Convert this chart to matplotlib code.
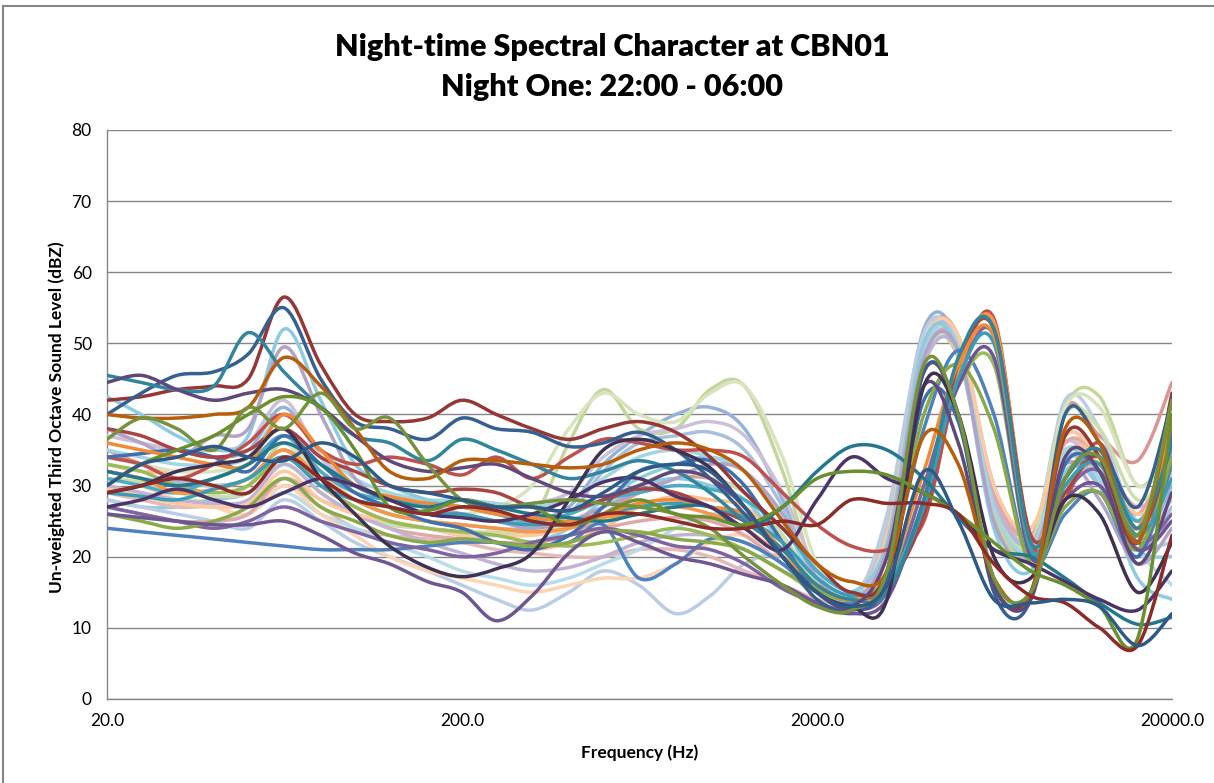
import numpy as np
import matplotlib.pyplot as plt
from matplotlib.path import Path
from matplotlib.patches import PathPatch
from matplotlib.lines import Line2D
from matplotlib.ticker import NullLocator

plt.rcParams['font.family'] = ['Lato', 'DejaVu Sans']

# third octave band centres (Hz)
freqs = [20, 25, 31.5, 40, 50, 63, 80, 100, 125, 160, 200, 250, 315, 400, 500, 630,
         800, 1000, 1250, 1600, 2000, 2500, 3150, 4000, 5000, 6300, 8000, 10000,
         12500, 16000, 20000]

# pastel runs (drawn first)
p01 = [38, 36, 35, 34, 35, 41, 34, 30, 28, 27, 26, 25, 25, 27, 33, 37, 40, 41, 38, 28, 16, 13, 24, 52, 50, 26, 21, 34, 31, 22, 30]
p02 = [35, 33, 31, 30, 31, 35, 30, 27, 25, 24, 23, 22, 22, 23, 26, 29, 31, 31, 29, 23, 16, 13, 23, 50, 51, 27, 22, 41, 37, 33.5, 44.5]
p03 = [30, 29, 28, 28, 30, 36, 31, 28, 26, 25, 24, 23, 25, 36, 43.5, 38, 38, 43.5, 44, 32, 17, 14, 25, 49, 48, 26, 21, 41, 42.5, 30, 36]
p04 = [28, 27, 27, 28, 29, 33, 29, 26, 24.5, 24, 23, 22, 22, 24, 28, 31, 33, 34, 32, 25, 16, 13, 22, 48, 50, 28, 21, 35, 30, 21, 20]
p05 = [33, 32, 32, 33, 34, 38, 32, 28, 26, 25, 24, 22, 21, 22, 24, 27, 28.5, 28, 27, 22, 15, 12.5, 23, 50, 51, 29, 24, 36, 33, 25, 32]
p06 = [28, 27, 26, 25, 24, 28, 25, 22, 20, 18, 16, 14, 12.5, 15, 18, 16, 12, 14.5, 19, 20, 15, 13, 26, 51.5, 50, 30, 22, 42, 38, 25, 31]
p07 = [29, 28, 27, 27, 26, 30, 27, 24, 23, 22.5, 22, 21, 20.5, 20, 20, 21, 21, 20, 18, 16, 14, 13, 24, 49, 51, 30, 23, 37, 34, 27, 32]
p08 = [34, 33, 32, 32, 33, 36, 31, 28, 27, 26, 26, 27, 30, 38, 43, 40, 39, 43, 44, 34, 19, 14, 24, 48, 49, 27, 22, 41, 41, 30, 34]
p09 = [37, 36, 35, 35, 36, 42, 34, 30, 28, 27, 27, 27, 27.5, 29, 34, 37, 38, 39, 37, 29, 18, 14, 24, 50, 50, 28, 22, 36, 31, 23, 28]
p10 = [26, 25.5, 25, 25, 26, 29, 26, 24, 22, 20, 18, 17, 16, 17, 19, 21, 24, 26, 25, 21, 15, 13, 22, 47, 50, 27, 22, 34, 31, 21, 16]
p11 = [31, 30, 28, 27, 26, 30, 26, 23, 20, 18, 17, 16, 15, 16, 17, 17, 19, 22, 23, 20, 14, 12.5, 22, 49, 51, 29, 23, 35, 32, 23, 35]
p12 = [32, 31, 30.5, 30, 31, 35, 31, 28, 26, 25, 24.5, 24, 24, 26, 32, 36, 37, 37.5, 35, 27, 17, 14, 23, 50, 50, 27, 22, 34, 30, 21, 27]
p13 = [27, 26, 25, 25, 26, 31, 28, 26, 24, 23, 22.5, 22, 22, 23, 24, 25, 25.5, 25, 23, 19, 15, 13, 22, 48, 50, 29, 23, 36, 34, 26, 37]
p14 = [31, 30.5, 29, 28.5, 29, 33, 29, 26, 24.5, 24, 23.5, 23.5, 23.5, 24.5, 27, 30, 32, 31, 29, 23, 16, 13.5, 22, 47, 49, 27, 22, 40, 38, 28, 33]
p15 = [30, 29, 28, 27.5, 28, 33, 29, 26, 24, 22, 20.5, 19, 18, 18.5, 20, 22, 23, 23, 22, 19, 15, 13, 22, 47, 49, 28, 22, 33, 30, 22, 25]
p16 = [35, 34, 33, 33, 34, 40, 35, 31, 29, 28, 28, 27.5, 27, 28, 31, 34, 35, 34, 32, 25, 17, 14, 23, 49, 50, 27, 21, 35, 31, 22, 22]
p17 = [29.5, 28.5, 27.5, 27, 27.5, 32, 28, 26, 25, 24, 23, 23, 23, 24, 25.5, 27.5, 28, 27, 25, 21, 15, 13, 23, 50, 51, 30, 24, 37, 34, 26, 31]
p18 = [42.5, 40, 37, 35, 37, 52, 42, 33, 30, 28, 27, 26, 25, 26, 28, 30, 31, 30, 28, 22, 17, 15, 22, 50, 49, 24, 18, 32, 30, 17, 14]
p19 = [38, 36, 34, 37, 38, 49.5, 40, 31, 28, 27, 26, 25, 24, 25, 27, 29, 31, 33, 32, 26, 17, 14, 21, 48, 49, 25, 20, 33, 28, 19, 24]

# mid-tone runs
m01 = [24, 23.5, 23, 22.5, 22, 21.5, 21, 21, 21, 21.5, 22, 22, 21.5, 22, 24.5, 17, 19, 22.5, 22, 19, 15, 13.5, 18, 38, 49, 40, 19, 26, 29, 20, 33]
m02 = [34, 33, 31, 33, 36, 40, 35, 33, 34, 33, 31.5, 34, 31, 34, 36.5, 36, 35, 35, 34, 29, 24.5, 21.5, 21, 25, 45, 53.5, 22, 28, 36, 24, 38]
m03 = [33, 32, 30, 29, 30, 34, 30, 27, 25, 24, 23.5, 23, 22, 21.5, 22, 23, 24, 23, 21, 18, 15, 14, 16, 30, 44, 47, 20, 30, 33, 24, 36]
m04 = [27, 26, 25, 24, 25, 27, 25, 23.5, 22, 21, 20, 20.5, 22, 23, 24, 23, 21.5, 21, 19, 15.5, 13.5, 12.5, 15, 30, 45, 51, 21, 29, 32, 22, 26]
m05 = [31, 30, 29, 31, 33, 37, 32, 29, 28, 27.5, 27, 26, 25, 26, 28, 29, 30, 29.5, 28, 24, 18, 15, 16, 28, 47, 52.5, 21, 31, 34, 25, 35]
m06 = [32, 31, 29, 29.5, 31, 35, 31, 28, 26, 25, 24.5, 24, 23.5, 24, 25.5, 26, 27, 26, 24, 20, 16, 14, 16, 27, 46, 53, 23, 30, 33, 24, 40]
m07 = [34, 34.5, 35, 34, 32, 37, 33, 29, 27, 25, 24, 22, 21, 23, 27, 32, 33, 33.5, 30, 22, 15, 13, 17, 42, 39, 16, 15, 33, 32, 20, 37]
m08 = [38, 37, 35, 34, 35, 38, 34, 32, 30, 29, 29.5, 29, 27, 26.5, 28, 29.5, 29, 27, 25, 21, 16, 14, 16, 26, 47, 52, 23, 29, 34, 23, 36]
m09 = [26, 25, 24, 25, 27, 31, 27, 25, 23, 22, 22.5, 22, 21.5, 22, 23.5, 23.5, 22.5, 22, 21, 18, 15.5, 14, 18, 40, 47, 38, 19, 27, 29, 21, 34]
m10 = [26, 25.5, 25, 24.5, 24.5, 25, 23, 20.5, 19, 16.5, 15, 11, 14.5, 20.5, 23.5, 22, 20, 19, 17.5, 16, 13.5, 12, 14, 28, 44, 48, 20, 28, 30, 21, 25]
m11 = [29, 28.5, 28, 29.5, 31, 34, 30, 28, 27, 26, 26, 25, 24.5, 25, 26, 27, 27.5, 27, 25.5, 22, 17, 14.5, 16, 27, 45, 50, 21, 30, 33, 23, 31]
m12 = [36, 35, 34, 33, 33, 40, 35, 30, 28.5, 27.5, 27, 26, 25.5, 25, 26, 27.5, 28, 27, 26, 21, 16, 14, 17, 32, 47, 51, 22, 31, 35, 24, 39]

# dark runs (drawn last, on top)
d01 = [42, 42.5, 43.5, 44, 45, 56.5, 47, 40, 39, 39.5, 42, 40, 38, 36.5, 38, 39, 37.5, 34, 29, 24, 19, 15, 18, 46, 40, 16, 15, 37, 34, 22, 43]
d02 = [40, 43, 45.5, 46, 48.5, 55, 45, 39, 38, 36.5, 39.5, 38, 37.5, 35.5, 36, 37.5, 35, 31, 26, 20, 14, 12.5, 17, 46, 40, 15, 14, 40, 36, 27, 42]
d03 = [45.5, 44.5, 43.5, 44, 51.5, 46, 41, 37, 36, 33.5, 36.5, 35, 33, 31, 32, 33.5, 32, 29, 25, 21, 16, 14, 15, 28, 48, 52, 22, 31, 35, 24, 36]
d04 = [32, 31, 30, 31, 33, 36, 33, 30, 28, 27, 28, 27, 26, 25.5, 25, 26, 27, 27, 24, 27, 32, 35.5, 35, 31, 25.5, 21, 20, 17, 13.5, 10.5, 11.5]
d05 = [44.5, 45.5, 43.5, 42, 43, 43.5, 41, 37, 33.5, 32, 32.5, 33, 31, 29, 28.5, 30, 32, 31, 27, 20, 15, 13, 20, 44, 36, 16, 14, 34, 32, 19, 29]
d06 = [27, 28, 29.5, 28, 27, 29, 31, 30, 28, 26, 25.5, 25, 26, 28, 30.5, 31, 28.5, 27, 24, 21, 28, 34, 31, 29, 26, 21, 19, 16.5, 14, 12.5, 18]
d07 = [29, 30, 32, 33, 34, 38, 31, 26, 21.5, 18.5, 17.2, 18.3, 20.5, 28, 35, 36.5, 35, 32.5, 27, 20, 15, 13, 14, 44, 40, 20, 17, 28, 26, 15, 22]
d08 = [40, 39.5, 39.5, 40, 41, 48, 44, 38, 32, 31, 33.5, 33.5, 33, 32.5, 33, 35, 36, 35, 32, 25, 19, 16.5, 18, 37, 33, 17, 15, 38, 36, 22, 42]
d09 = [36.5, 39.5, 38, 35, 41, 38, 43, 38, 39.5, 33, 28, 27, 27.5, 28, 27.5, 27, 26, 24, 20, 16, 13, 12.5, 18, 47, 40, 17, 15, 31, 34, 23, 42]
d10 = [30, 33, 35, 37, 40, 42.5, 41, 35, 27, 26.5, 28, 27, 27, 24.5, 26, 28, 26, 25.5, 24.5, 27, 31, 32, 31.5, 29, 26, 22, 18, 16, 13, 8.5, 40]
d11 = [29, 30, 31, 30, 29, 34, 31, 28, 27, 26, 27, 26.5, 25, 24.5, 26, 26, 25, 24, 24, 25, 24.5, 28, 27.5, 27.5, 26, 19, 14.5, 13.5, 10, 7.5, 23]
d12 = [30, 33, 34, 35.5, 34, 33.5, 36, 34, 30, 29, 28, 27, 27, 26.5, 29, 32, 33, 32, 27, 20, 15, 13, 16, 32, 25, 14, 13.5, 14, 13, 7.5, 12]

pastel = [p01, p02, p03, p04, p05, p06, p07, p08, p09, p10, p11, p12, p13, p14, p15, p16, p17, p18, p19]
pastel_colors = ['#95B3D7', '#D99694', '#C3D69B', '#92CDDC', '#FAC08F', '#B9CDE5', '#E6B9B8',
                 '#D7E4BD', '#CCC1DA', '#B7DEE8', '#FCD5B5', '#A7C0DE', '#E0A8A6', '#CDDDAB',
                 '#C0B3D3', '#A6D5E2', '#FBCAA2', '#8FCBE0', '#B3A2C7']
mid = [m01, m02, m03, m04, m05, m06, m07, m08, m09, m10, m11, m12]
mid_colors = ['#4F81BD', '#C0504D', '#9BBB59', '#8064A2', '#4BACC6', '#F79646',
              '#3F6FAE', '#A84542', '#8AAA4A', '#6F5592', '#3B9CB6', '#F08A36']
dark = [d01, d02, d03, d04, d05, d06, d07, d08, d09, d10, d11, d12]
dark_colors = ['#953735', '#376092', '#31859C', '#23788E', '#5F497A', '#4A3468',
               '#3F3151', '#B65E0C', '#76923C', '#6A8F2E', '#8C2B28', '#2E5A88']


def smooth_path(x, y):
    # Excel-style smoothed line: cubic Bezier through every point
    lx = np.log10(np.asarray(x, float))
    y = np.asarray(y, float)
    n = len(lx)
    verts = [(lx[0], y[0])]
    codes = [Path.MOVETO]
    for i in range(n - 1):
        a = max(i - 1, 0)
        b = min(i + 2, n - 1)
        c1 = (lx[i] + (lx[i + 1] - lx[a]) / 6, y[i] + (y[i + 1] - y[a]) / 6)
        c2 = (lx[i + 1] - (lx[b] - lx[i]) / 6, y[i + 1] - (y[b] - y[i]) / 6)
        verts += [c1, c2, (lx[i + 1], y[i + 1])]
        codes += [Path.CURVE4] * 3
    verts = np.array(verts)
    verts[:, 0] = 10 ** verts[:, 0]
    return Path(verts, codes)


fig = plt.figure(figsize=(12.14, 7.83), dpi=100)
ax = fig.add_axes([0.0881, 0.1073, 0.8773, 0.7267])
ax.set_xscale('log')
ax.set_xlim(20, 20000)
ax.set_ylim(0, 80)

z = 3
for group, cols in [(pastel, pastel_colors), (mid, mid_colors), (dark, dark_colors)]:
    for vals, c in zip(group, cols):
        ax.add_patch(PathPatch(smooth_path(freqs, vals), fill=False, edgecolor=c,
                               lw=2.5, capstyle='round', joinstyle='round', zorder=z))
        z += 0.01

ax.set_yticks(range(0, 81, 10))
ax.yaxis.grid(True, color='#868686', lw=1)
ax.set_axisbelow(True)
ax.set_xticks([20, 200, 2000, 20000])
ax.set_xticklabels(['20.0', '200.0', '2000.0', '20000.0'])
ax.xaxis.set_minor_locator(NullLocator())
ax.tick_params(axis='both', length=0, labelsize=12.5, colors='black')
ax.tick_params(axis='y', pad=11)
ax.tick_params(axis='x', pad=10)
for s in ['top', 'right']:
    ax.spines[s].set_visible(False)
for s in ['left', 'bottom']:
    ax.spines[s].set_color('#868686')
    ax.spines[s].set_linewidth(1)

ax.set_xlabel('Frequency (Hz)', fontsize=12.5, fontweight='bold')
ax.set_ylabel('Un-weighted Third Octave Sound Level (dBZ)', fontsize=12.5, fontweight='bold')
ax.xaxis.set_label_coords(0.5, -0.08)
ax.yaxis.set_label_coords(-0.039, 0.496)

fig.text(0.504, 1 - 47 / 783, 'Night-time Spectral Character at CBN01', ha='center', va='center',
         fontsize=22, fontweight='heavy')
fig.text(0.504, 1 - 87 / 783, 'Night One: 22:00 - 06:00', ha='center', va='center',
         fontsize=22, fontweight='heavy')

# chart border
fig.add_artist(Line2D([3 / 1214, 1], [1 - 6 / 783, 1 - 6 / 783], transform=fig.transFigure,
                      color='#868686', lw=1.5))
fig.add_artist(Line2D([3 / 1214, 3 / 1214], [0, 1 - 6 / 783], transform=fig.transFigure,
                      color='#868686', lw=1.5))

plt.savefig('out.png', dpi=100)
plt.close()
